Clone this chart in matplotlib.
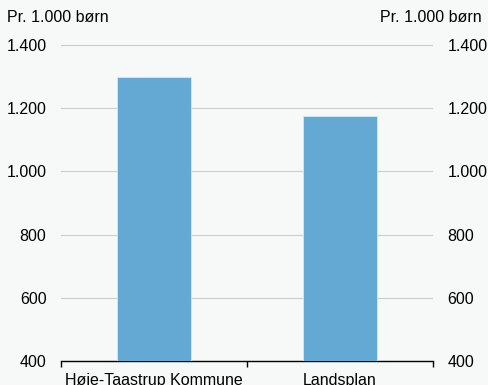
import matplotlib.pyplot as plt
from matplotlib.ticker import FuncFormatter

plt.rcParams["font.family"] = ["Liberation Sans", "DejaVu Sans"]

categories = ["Høje-Taastrup Kommune", "Landsplan"]
values = [1300, 1175]
yticks = [400, 600, 800, 1000, 1200, 1400]
unit = "Pr. 1.000 børn"

bg = "#f7f8f8"
fs = 11.5
fig = plt.figure(figsize=(4.89, 3.85), dpi=100, facecolor=bg)
ax = fig.add_axes([61 / 489, 24 / 385, 372 / 489, 316 / 385], facecolor=bg)

x = range(len(categories))
ax.bar(x, values, width=0.4, color="#63a9d4", edgecolor="#d6e8f4", linewidth=0.6, zorder=3)

ax.set_xlim(-0.5, len(categories) - 0.5)
ax.set_ylim(400, 1400)
ax.set_yticks(yticks)
fmt = FuncFormatter(lambda v, p: f"{int(v):,}".replace(",", "."))
ax.yaxis.set_major_formatter(fmt)
ax.grid(axis="y", color="#cccccc", linewidth=0.8, zorder=0)

for s in ["top", "left", "right"]:
    ax.spines[s].set_visible(False)
ax.spines["bottom"].set_color("black")
ax.spines["bottom"].set_linewidth(1)

ax.set_xticks(list(x))
ax.set_xticklabels(categories, fontsize=fs)
ax.tick_params(axis="x", which="major", length=0, pad=8.5)
ax.set_xticks([-0.5, 0.5, 1.5], minor=True)
ax.tick_params(axis="x", which="minor", length=4, width=1, color="black")

ax.tick_params(axis="y", length=0, labelsize=fs, labelright=True)
ax.tick_params(axis="y", which="major", left=True, right=True)
for t in ax.yaxis.get_major_ticks():
    t.set_pad(10.5)

fig.text(7 / 489, 1 - 17 / 385, unit, fontsize=fs, va="center", ha="left")
fig.text(482 / 489, 1 - 17 / 385, unit, fontsize=fs, va="center", ha="right")

fig.savefig("out.png", dpi=100, facecolor=bg)
